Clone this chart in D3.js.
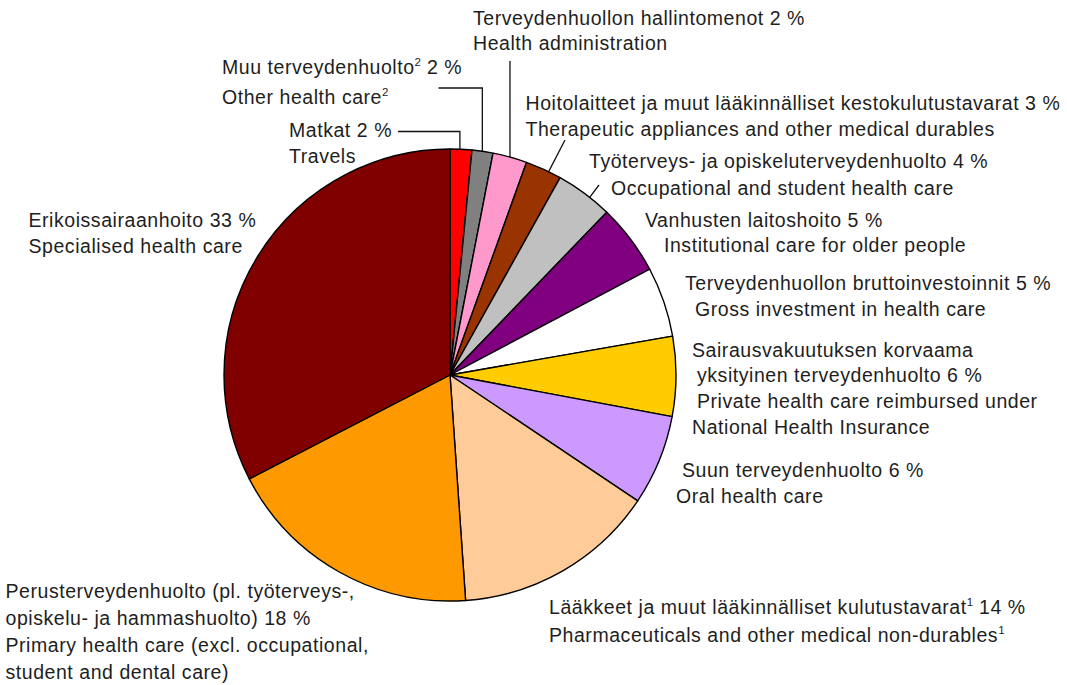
<!DOCTYPE html>
<html>
<head>
<meta charset="utf-8">
<script src="https://cdn.jsdelivr.net/npm/d3@7/dist/d3.min.js"></script>
<style>
  html, body { margin: 0; padding: 0; background: #fff; }
  svg { display: block; }
  text { font-family: "Liberation Sans", Arial, sans-serif; font-size: 19.5px; letter-spacing: 0.55px; fill: #1e1e1e; }
</style>
</head>
<body>
<svg id="chart" width="1067" height="685"></svg>
<script>
// ---- data ----
const categories = [
  "Matkat", "Muu terveydenhuolto", "Terveydenhuollon hallintomenot",
  "Hoitolaitteet ja muut lääkinnälliset kestokulutustavarat",
  "Työterveys- ja opiskeluterveydenhuolto", "Vanhusten laitoshoito",
  "Terveydenhuollon bruttoinvestoinnit", "Sairausvakuutuksen korvaama yksityinen terveydenhuolto",
  "Suun terveydenhuolto", "Lääkkeet ja muut lääkinnälliset kulutustavarat",
  "Perusterveydenhuolto", "Erikoissairaanhoito"
];
const values = [1.55, 1.5, 2.45, 2.6, 4.1, 5.05, 5.0, 5.7, 6.45, 14.5, 18.5, 32.6];
const colors = ["#ff0000", "#808080", "#ff99cc", "#993300", "#c0c0c0", "#800080",
                "#ffffff", "#ffcc00", "#cc99ff", "#ffcc99", "#ff9900", "#800000"];
// label text lines (^n = superscript)
const labelLines = [
  ["Matkat 2 %", "Travels"],
  ["Muu terveydenhuolto^2 2 %", "Other health care^2"],
  ["Terveydenhuollon hallintomenot 2 %", "Health administration"],
  ["Hoitolaitteet ja muut lääkinnälliset kestokulutustavarat 3 %", "Therapeutic appliances and other medical durables"],
  ["Työterveys- ja opiskeluterveydenhuolto 4 %", "Occupational and student health care"],
  ["Vanhusten laitoshoito 5 %", "Institutional care for older people"],
  ["Terveydenhuollon bruttoinvestoinnit 5 %", "Gross investment in health care"],
  ["Sairausvakuutuksen korvaama", "yksityinen terveydenhuolto 6 %", "Private health care reimbursed under", "National Health Insurance"],
  ["Suun terveydenhuolto 6 %", "Oral health care"],
  ["Lääkkeet ja muut lääkinnälliset kulutustavarat^1 14 %", "Pharmaceuticals and other medical non-durables^1"],
  ["Perusterveydenhuolto (pl. työterveys-,", "opiskelu- ja hammashuolto) 18 %", "Primary health care (excl. occupational,", "student and dental care)"],
  ["Erikoissairaanhoito 33 %", "Specialised health care"]
];

// ---- layout ----
const cx = 450, cy = 375, R = 226;
const labelPos = [
  {x: 289, y: [137, 163]},
  {x: 222, y: [73.5, 103.5]},
  {x: 473, y: [24.5, 50]},
  {x: 525.5, y: [110, 135.5]},
  {x: 589, y: [168, 194.5], dx: [0, 22]},
  {x: 645, y: [227, 252], dx: [0, 19]},
  {x: 685, y: [290, 315.5], dx: [0, 10]},
  {x: 692, y: [357, 382, 408, 434], dx: [0, 5, 5, 0]},
  {x: 682, y: [477, 503], dx: [0, -6]},
  {x: 549, y: [613.5, 641.5]},
  {x: 5.5, y: [598, 625, 652, 679]},
  {x: 28.5, y: [227, 253]}
];
// leaders: slice index, fraction along slice angle, start point, type
const leaders = [
  {i: 0, t: 0.45, from: [398, 131.5], elbow: true},
  {i: 1, t: 0.49, from: [438.5, 88], elbow: true},
  {i: 2, t: 0.5, from: [null, 61], elbow: true},
  {i: 3, t: 0.65, from: [565, 140], elbow: false},
  {i: 4, t: 0.61, from: [599, 185], elbow: false}
];

const svg = d3.select("#chart");
const pie = d3.pie().sort(null).value(d => d).startAngle(0).endAngle(2 * Math.PI);
const arcs = pie(values);
const arc = d3.arc().innerRadius(0).outerRadius(R);

const g = svg.append("g").attr("transform", `translate(${cx},${cy})`);
g.selectAll("path").data(arcs).join("path")
  .attr("d", arc)
  .attr("fill", (d, i) => colors[i])
  .attr("stroke", "#000")
  .attr("stroke-width", 1.4)
  .attr("stroke-linejoin", "round");

// label background strip (clips descenders of line above, like the source)
svg.append("rect").attr("x", 520).attr("y", 137.5).attr("width", 500).attr("height", 9).attr("fill", "#fff");

// leader lines
leaders.forEach(L => {
  const a = arcs[L.i];
  const ang = a.startAngle + L.t * (a.endAngle - a.startAngle);
  const ex = cx + R * Math.sin(ang), ey = cy - R * Math.cos(ang);
  let pts;
  if (L.elbow) {
    pts = L.from[0] === null ? [[ex, L.from[1]], [ex, ey]] : [L.from, [ex, L.from[1]], [ex, ey]];
  } else {
    pts = [L.from, [ex, ey]];
  }
  svg.append("path").attr("d", d3.line()(pts))
    .attr("fill", "none").attr("stroke", "#111").attr("stroke-width", 1.3);
});

// labels
labelLines.forEach((lines, i) => {
  const p = labelPos[i];
  lines.forEach((ln, j) => {
    const t = svg.append("text")
      .attr("x", p.x + (p.dx ? p.dx[j] : 0))
      .attr("y", p.y[j]);
    const parts = ln.split(/\^(\d)/);
    let raised = false;
    parts.forEach((s, k) => {
      if (k % 2 === 0) {
        if (s) {
          const ts = t.append("tspan").text(s);
          if (raised) { ts.attr("dy", 8); raised = false; }
        }
      } else {
        t.append("tspan").attr("dy", -8).style("font-size", "11.5px").style("letter-spacing", "0px").text(s);
        raised = true;
      }
    });
  });
});
</script>
</body>
</html>
